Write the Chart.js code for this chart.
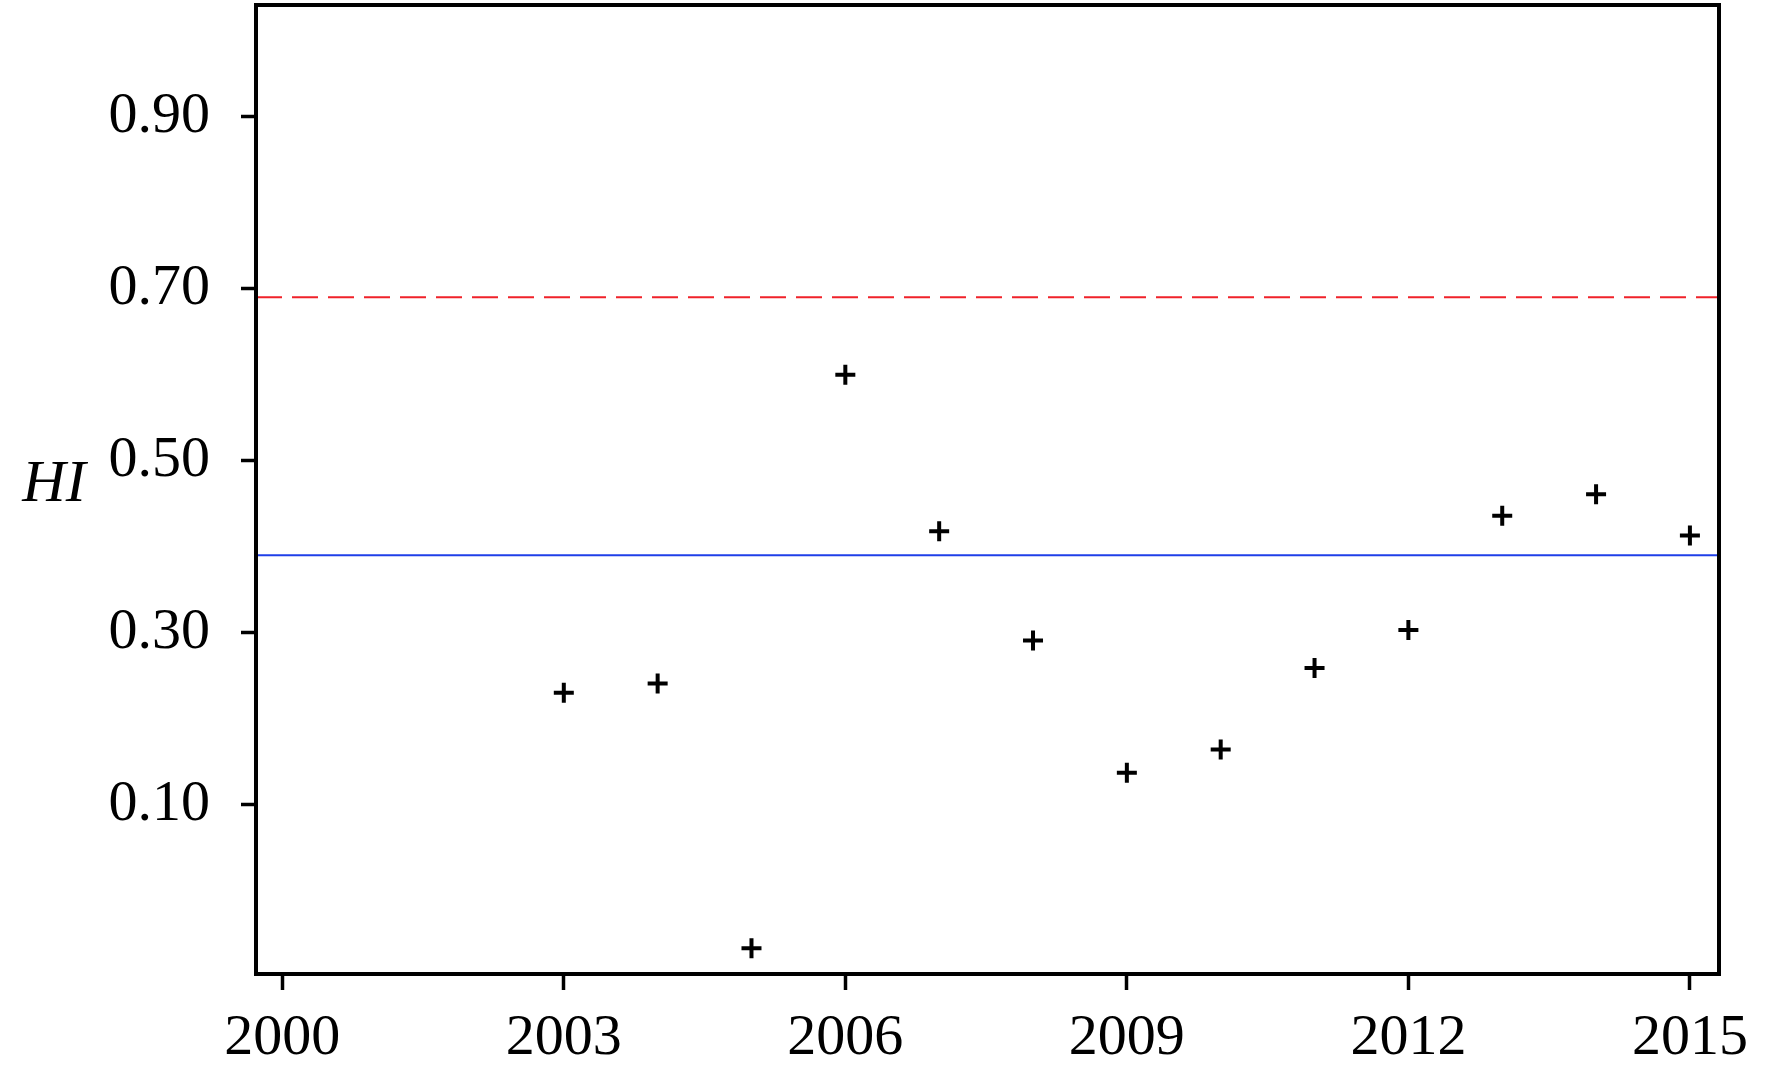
<!DOCTYPE html>
<html>
<head>
<meta charset="utf-8">
<script src="https://cdn.jsdelivr.net/npm/chart.js@4"></script>
<style>
  html, body { margin: 0; padding: 0; background: #fff; }
  #wrap { width: 1772px; height: 1077px; position: relative; }
</style>
</head>
<body>
<div id="wrap"><canvas id="chart"></canvas></div>
<script>
'use strict';

// data
const years = [2003, 2004, 2005, 2006, 2007, 2008, 2009, 2010, 2011, 2012, 2013, 2014, 2015];
const hiValues = [0.230, 0.241, -0.067, 0.600, 0.418, 0.291, 0.137, 0.164, 0.259, 0.303, 0.436, 0.461, 0.413];
const meanHI = 0.39;      // blue solid line
const thresholdHI = 0.69; // red dashed line
const xTicks = [2000, 2003, 2006, 2009, 2012, 2015];
const yTicks = [0.10, 0.30, 0.50, 0.70, 0.90];
const xRange = [1999.72, 2015.31];
const yRange = [-0.097, 1.03];

const FONT = "'Liberation Serif', 'Times New Roman', serif";

// drop the extra room Chart.js keeps for edge labels
function noEdgePadding(scale) {
  scale.paddingTop = 0;
  scale.paddingBottom = 0;
  scale.paddingLeft = 0;
  scale.paddingRight = 0;
}

// frame around the plot and the horizontal "HI" label
const framePlugin = {
  id: 'frame',
  afterDraw(chart) {
    const { ctx, chartArea: a } = chart;
    ctx.save();
    ctx.strokeStyle = '#000';
    ctx.lineWidth = 4;
    ctx.strokeRect(a.left, a.top, a.right - a.left, a.bottom - a.top);
    ctx.fillStyle = '#000';
    ctx.font = 'italic 60px ' + FONT;
    ctx.textAlign = 'center';
    ctx.textBaseline = 'middle';
    ctx.fillText('HI', 54, (a.top + a.bottom) / 2 - 4);
    ctx.restore();
  }
};

const points = years.map((y, i) => ({ x: y, y: hiValues[i] }));

new Chart(document.getElementById('chart'), {
  type: 'scatter',
  data: {
    datasets: [
      {
        label: 'HI',
        data: points,
        pointStyle: 'cross',
        pointRadius: 10,
        pointHoverRadius: 10,
        borderColor: '#000',
        backgroundColor: '#000',
        pointBorderWidth: 4
      },
      {
        type: 'line',
        label: 'mean',
        data: xRange.map(x => ({ x: x, y: meanHI })),
        borderColor: '#1f3fe8',
        borderWidth: 2,
        pointRadius: 0
      },
      {
        type: 'line',
        label: 'threshold',
        data: xRange.map(x => ({ x: x, y: thresholdHI })),
        borderColor: '#f0222a',
        borderWidth: 2,
        borderDash: [26, 10],
        pointRadius: 0
      }
    ]
  },
  options: {
    responsive: true,
    maintainAspectRatio: false,
    animation: false,
    layout: { autoPadding: false, padding: { top: 5, right: 53, left: 0, bottom: 0 } },
    plugins: {
      legend: { display: false },
      tooltip: { enabled: false }
    },
    scales: {
      x: {
        type: 'linear',
        min: xRange[0],
        max: xRange[1],
        afterBuildTicks: scale => { scale.ticks = xTicks.map(v => ({ value: v })); },
        afterFit: scale => { scale.height = 103; noEdgePadding(scale); },
        border: { display: false },
        grid: {
          drawOnChartArea: false,
          drawTicks: true,
          tickLength: 16,
          tickWidth: 3.5,
          tickColor: '#000'
        },
        ticks: {
          color: '#000',
          font: { family: FONT, size: 58 },
          padding: 14,
          maxRotation: 0,
          callback: v => String(v)
        }
      },
      y: {
        type: 'linear',
        min: yRange[0],
        max: yRange[1],
        afterBuildTicks: scale => { scale.ticks = yTicks.map(v => ({ value: v })); },
        afterFit: scale => { scale.width = 256; noEdgePadding(scale); },
        border: { display: false },
        grid: {
          drawOnChartArea: false,
          drawTicks: true,
          tickLength: 15,
          tickWidth: 3.5,
          tickColor: '#000'
        },
        ticks: {
          color: '#000',
          font: { family: FONT, size: 58 },
          padding: 31,
          callback: v => v.toFixed(2)
        }
      }
    }
  },
  plugins: [framePlugin]
});
</script>
</body>
</html>
